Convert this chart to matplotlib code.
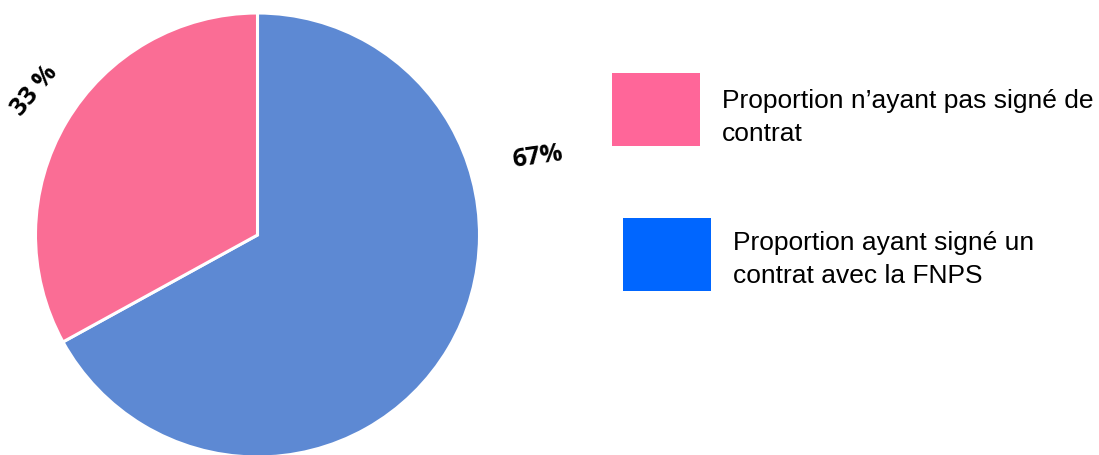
import matplotlib
matplotlib.use("Agg")
import matplotlib.pyplot as plt
from matplotlib.patches import Rectangle

# Data
labels = ["Proportion ayant signé un\ncontrat avec la FNPS",
          "Proportion n’ayant pas signé de\ncontrat"]
values = [67, 33]
pct_labels = ["67%", "33 %"]
pie_colors = ["#5D89D3", "#FA6D95"]
legend_colors = ["#0066FF", "#FF6699"]

W, H = 1099, 456
fig = plt.figure(figsize=(W / 100, H / 100), dpi=100)
ax = fig.add_axes([0, 0, 1, 1])
ax.set_xlim(0, W)
ax.set_ylim(0, H)
ax.axis("off")

# pie in pixel coordinates (y measured from bottom)
ax.pie(values, colors=pie_colors, startangle=90, counterclock=False,
       center=(257.5, H - 236), radius=222,
       wedgeprops=dict(edgecolor="white", linewidth=2.2))
ax.set_xlim(0, W)
ax.set_ylim(0, H)
ax.set_aspect("equal")

# percentage labels
ax.text(537, H - 157, pct_labels[0], fontsize=18, fontweight="bold",
        family="Open Sans", rotation=8, ha="center", va="center")
ax.text(35, H - 91, pct_labels[1], fontsize=18, fontweight="bold",
        family="Open Sans", rotation=50, ha="center", va="center")

# legend boxes and texts
ax.add_patch(Rectangle((612, H - 147), 88, 73, color=legend_colors[1], lw=0))
ax.add_patch(Rectangle((623, H - 292), 88, 73, color=legend_colors[0], lw=0))

lines_pink = labels[1].split("\n")
lines_blue = labels[0].split("\n")
for i, t in enumerate(lines_pink):
    ax.text(722, H - 108 - i * 33, t, fontsize=19, family="Liberation Sans",
            ha="left", va="baseline")
for i, t in enumerate(lines_blue):
    ax.text(733, H - 250 - i * 33, t, fontsize=19, family="Liberation Sans",
            ha="left", va="baseline")

fig.savefig("out.png", dpi=100)
